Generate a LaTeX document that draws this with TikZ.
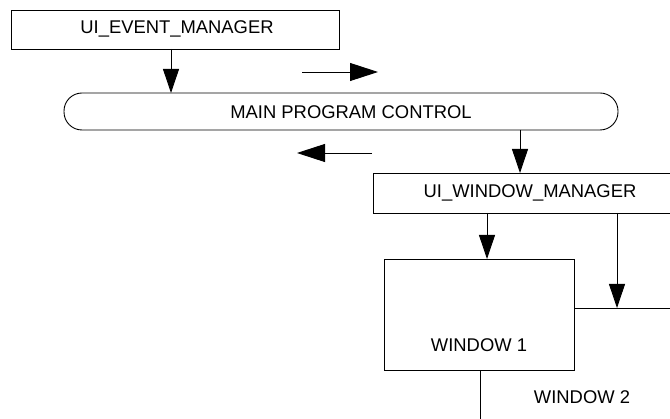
\documentclass[tikz,border=0pt]{standalone}
\usepackage{fontspec}
\setmainfont{Liberation Sans}
\usetikzlibrary{arrows.meta}
\tikzset{
  box/.style={draw, rectangle, inner sep=0pt, outer sep=0pt, font=\fontsize{18.4}{20}\selectfont},
  lbl/.style={inner sep=0pt, font=\fontsize{18.4}{20}\selectfont},
  arr/.style={-{Triangle[length=24pt,width=16pt]}},
  harr/.style={-{Triangle[length=28pt,width=18pt]}}
}
\begin{document}
\begin{tikzpicture}[x=1pt,y=-1pt,line width=0.9pt]
\useasboundingbox (0,0) rectangle (670,419);
\clip (0,0) rectangle (670,419);
% UI_EVENT_MANAGER
\node[box, minimum width=328pt, minimum height=39pt] (ev) at (175,29.5) {};
\node[lbl] (evt) at (177,29) {UI\_EVENT\_MANAGER};
% MAIN PROGRAM CONTROL
\node[box, rounded corners=18pt, minimum width=554pt, minimum height=37pt] (main) at (341,111.5) {};
\node[lbl] (maint) at (351,112) {MAIN PROGRAM CONTROL};
% UI_WINDOW_MANAGER
\node[box, minimum width=314pt, minimum height=40pt] (wm) at (530,193) {};
\node[lbl] (wmt) at (530,193) {UI\_WINDOW\_MANAGER};
% WINDOW 2 (behind)
\node[box, minimum width=204pt, minimum height=120pt] (w2) at (582,368) {};
\node[lbl] (w2t) at (582,397) {WINDOW 2};
% WINDOW 1 (front)
\node[box, fill=white, minimum width=190pt, minimum height=111pt] (w1) at (479,314.5) {};
\node[lbl] (w1t) at (479,345) {WINDOW 1};
% free arrows
\coordinate (ra1) at (302,72);
\coordinate (ra2) at (378,72);
\coordinate (la1) at (372,153);
\coordinate (la2) at (297,153);
\draw[harr] (ra1) -- (ra2);
\draw[harr] (la1) -- (la2);
% connectors
\draw[arr] ([xshift=-4pt]ev.south) -- ([xshift=-4pt]ev.south |- main.north);
\draw[arr] ([xshift=179pt]main.south) -- ([xshift=179pt]main.south |- wm.north);
\draw[arr] ([xshift=8pt]w1.north |- wm.south) -- ([xshift=8pt]w1.north);
\draw[arr] ([xshift=35pt]w2.north |- wm.south) -- ([xshift=35pt]w2.north);
\end{tikzpicture}
\end{document}
